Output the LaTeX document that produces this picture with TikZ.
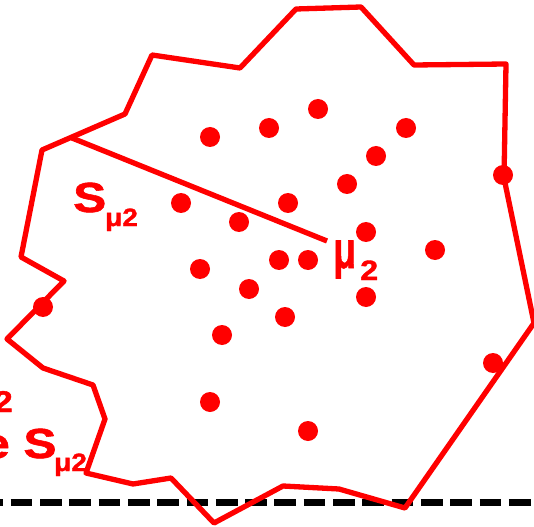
\documentclass[tikz,border=0pt]{standalone}
\usepackage{fontspec}
\setmainfont{Liberation Sans}[BoldFont={Liberation Sans Bold}]
\newfontfamily\heavyfont{Liberation Sans Bold}[FakeBold=1.3]
\begin{document}
\begin{tikzpicture}[x=1pt,y=-1pt,
  poly/.style={red, line width=5.3pt, line join=round, line cap=round},
  dotn/.style={circle, fill=red, inner sep=0pt, minimum size=20pt},
  lbl/.style={text=red, inner sep=0pt},
  dashline/.style={black, line width=7pt, dash pattern=on 21.7pt off 7.6pt, dash phase=18.6pt},
]
\useasboundingbox (0,0) rectangle (534,526);
% dashed baseline
\coordinate (d0) at (0,502);
\coordinate (d1) at (534,502);
\draw[dashline] (d0) -- (d1);
% polygon vertices
\coordinate (p1) at (42,150);
\coordinate (p2) at (125,114);
\coordinate (p3) at (152,55);
\coordinate (p4) at (240,68);
\coordinate (p5) at (296,9);
\coordinate (p6) at (361,7);
\coordinate (p7) at (414,65);
\coordinate (p8) at (506,64);
\coordinate (p9) at (504,178);
\coordinate (p10) at (534,323);
\coordinate (p11) at (405,508);
\coordinate (p12) at (339,489);
\coordinate (p13) at (283,486);
\coordinate (p14) at (214,523);
\coordinate (p15) at (171,478);
\coordinate (p16) at (133,484);
\coordinate (p17) at (86,473);
\coordinate (p18) at (105,419);
\coordinate (p19) at (93,385);
\coordinate (p20) at (43,368);
\coordinate (p21) at (7,339);
\coordinate (p22) at (64,281);
\coordinate (p23) at (21,257);
\draw[poly] (p1) -- (p2) -- (p3) -- (p4) -- (p5) -- (p6) -- (p7) -- (p8) -- (p9) -- (p10) -- (p11) -- (p12) -- (p13) -- (p14) -- (p15) -- (p16) -- (p17) -- (p18) -- (p19) -- (p20) -- (p21) -- (p22) -- (p23) -- cycle;
% radius line
\coordinate (r0) at (72,138);
\coordinate (mu) at (327,241);
\draw[poly, line cap=butt] (r0) -- (mu);
% points
\foreach \n/\x/\y in {1/210/137, 2/269/128, 3/318/109, 4/406/128, 5/376/156, 6/347/184,
  7/503/175, 8/181/203, 9/239/222, 10/288/203, 11/366/232, 12/435/250, 13/200/269,
  14/279/260, 15/308/260, 16/249/289, 17/366/297, 18/285/317, 19/222/335, 20/43/307,
  21/493/363, 22/210/402, 23/308/431}
  \node[dotn] (q\n) at (\x,\y) {};
% labels
\node[lbl, anchor=base west, font=\heavyfont\fontsize{42}{42}\selectfont] (S1) at (73,212) {\scalebox{1.18}[1]{S}};
\node[lbl, anchor=base west, font=\heavyfont\fontsize{25}{25}\selectfont] (S1sub) at (105,226) {\scalebox{1.12}[1]{μ2}};
\node[lbl, anchor=base west, font=\heavyfont\fontsize{52}{52}\selectfont] (M) at (333,268) {\scalebox{0.72}[1]{μ}};
\node[lbl, anchor=base west, font=\heavyfont\fontsize{28}{28}\selectfont] (Msub) at (360,280) {\scalebox{1.15}[1]{2}};
\node[lbl, anchor=base east, font=\heavyfont\fontsize{30}{30}\selectfont] (T2) at (13,412) {\scalebox{1.15}[1]{2}};
\node[lbl, anchor=base west, font=\heavyfont\fontsize{42}{42}\selectfont] (S2) at (-18,458) {\scalebox{1.18}[1]{e S}};
\node[lbl, anchor=base west, font=\heavyfont\fontsize{25}{25}\selectfont] (S2sub) at (54,471) {\scalebox{1.12}[1]{μ2}};
\end{tikzpicture}
\end{document}
